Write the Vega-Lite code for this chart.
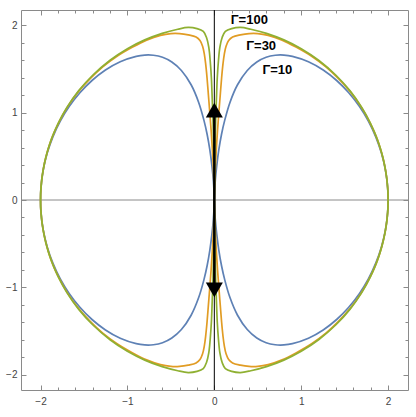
{
  "$schema": "https://vega.github.io/schema/vega-lite/v6.json",
  "width": 387,
  "height": 380,
  "autosize": "none",
  "padding": {"left": 21, "top": 10, "right": 8, "bottom": 27},
  "config": {
    "view": {"stroke": "#8a8a8a", "strokeWidth": 1},
    "axis": {"domain": false, "grid": false, "title": null, "tickColor": "#8a8a8a", "tickWidth": 1, "labelFont": "Liberation Sans", "labelFontSize": 10, "labelColor": "#444444", "labelFlush": false, "labelOverlap": false, "labelBound": false}
  },
  "datasets": {
    "blue": [
      {"x":0,"y":0},{"x":0.003,"y":0.086},{"x":0.011,"y":0.222},{"x":0.028,"y":0.394},{"x":0.052,"y":0.576},{"x":0.083,"y":0.753},{"x":0.12,"y":0.914},{"x":0.18,"y":1.117},{"x":0.267,"y":1.319},{"x":0.379,"y":1.483},{"x":0.489,"y":1.58},{"x":0.596,"y":1.634},{"x":0.701,"y":1.657},{"x":0.801,"y":1.659},{"x":0.899,"y":1.645},{"x":1.083,"y":1.583},{"x":1.253,"y":1.488},{"x":1.408,"y":1.368},{"x":1.547,"y":1.228},{"x":1.669,"y":1.072},{"x":1.773,"y":0.903},{"x":1.858,"y":0.723},{"x":1.924,"y":0.534},{"x":1.97,"y":0.34},{"x":1.995,"y":0.142},{"x":2,"y":0},
      {"x":1.995,"y":-0.142},{"x":1.97,"y":-0.34},{"x":1.924,"y":-0.534},{"x":1.858,"y":-0.723},{"x":1.773,"y":-0.903},{"x":1.669,"y":-1.072},{"x":1.547,"y":-1.228},{"x":1.408,"y":-1.368},{"x":1.253,"y":-1.488},{"x":1.083,"y":-1.583},{"x":0.899,"y":-1.645},{"x":0.801,"y":-1.659},{"x":0.701,"y":-1.657},{"x":0.596,"y":-1.634},{"x":0.489,"y":-1.58},{"x":0.379,"y":-1.483},{"x":0.267,"y":-1.319},{"x":0.18,"y":-1.117},{"x":0.12,"y":-0.914},{"x":0.083,"y":-0.753},{"x":0.052,"y":-0.576},{"x":0.028,"y":-0.394},{"x":0.011,"y":-0.222},{"x":0.003,"y":-0.086},{"x":0,"y":0},
      {"x":-0.003,"y":0.086},{"x":-0.011,"y":0.222},{"x":-0.028,"y":0.394},{"x":-0.052,"y":0.576},{"x":-0.083,"y":0.753},{"x":-0.12,"y":0.914},{"x":-0.18,"y":1.117},{"x":-0.267,"y":1.319},{"x":-0.379,"y":1.483},{"x":-0.489,"y":1.58},{"x":-0.596,"y":1.634},{"x":-0.701,"y":1.657},{"x":-0.801,"y":1.659},{"x":-0.899,"y":1.645},{"x":-1.083,"y":1.583},{"x":-1.253,"y":1.488},{"x":-1.408,"y":1.368},{"x":-1.547,"y":1.228},{"x":-1.669,"y":1.072},{"x":-1.773,"y":0.903},{"x":-1.858,"y":0.723},{"x":-1.924,"y":0.534},{"x":-1.97,"y":0.34},{"x":-1.995,"y":0.142},{"x":-2,"y":0},
      {"x":-1.995,"y":-0.142},{"x":-1.97,"y":-0.34},{"x":-1.924,"y":-0.534},{"x":-1.858,"y":-0.723},{"x":-1.773,"y":-0.903},{"x":-1.669,"y":-1.072},{"x":-1.547,"y":-1.228},{"x":-1.408,"y":-1.368},{"x":-1.253,"y":-1.488},{"x":-1.083,"y":-1.583},{"x":-0.899,"y":-1.645},{"x":-0.801,"y":-1.659},{"x":-0.701,"y":-1.657},{"x":-0.596,"y":-1.634},{"x":-0.489,"y":-1.58},{"x":-0.379,"y":-1.483},{"x":-0.267,"y":-1.319},{"x":-0.18,"y":-1.117},{"x":-0.12,"y":-0.914},{"x":-0.083,"y":-0.753},{"x":-0.052,"y":-0.576},{"x":-0.028,"y":-0.394},{"x":-0.011,"y":-0.222},{"x":-0.003,"y":-0.086},{"x":0,"y":0}
    ],
    "orange": [
      {"x":0,"y":0},{"x":0.005,"y":0.2},{"x":0.013,"y":0.4},{"x":0.024,"y":0.6},{"x":0.037,"y":0.8},{"x":0.052,"y":1.0},{"x":0.068,"y":1.2},{"x":0.084,"y":1.4},{"x":0.1,"y":1.56},{"x":0.115,"y":1.67},{"x":0.135,"y":1.76},{"x":0.165,"y":1.825},{"x":0.21,"y":1.865},{"x":0.3,"y":1.89},{"x":0.4,"y":1.905},{"x":0.5,"y":1.905},{"x":0.62,"y":1.885},{"x":0.78,"y":1.83},{"x":0.94,"y":1.75},{"x":1.124,"y":1.642},{"x":1.284,"y":1.524},{"x":1.429,"y":1.389},{"x":1.564,"y":1.241},{"x":1.681,"y":1.08},{"x":1.781,"y":0.907},{"x":1.864,"y":0.725},{"x":1.927,"y":0.535},{"x":1.971,"y":0.34},{"x":1.995,"y":0.142},{"x":2,"y":0},
      {"x":1.995,"y":-0.142},{"x":1.971,"y":-0.34},{"x":1.927,"y":-0.535},{"x":1.864,"y":-0.725},{"x":1.781,"y":-0.907},{"x":1.681,"y":-1.08},{"x":1.564,"y":-1.241},{"x":1.429,"y":-1.389},{"x":1.284,"y":-1.524},{"x":1.124,"y":-1.642},{"x":0.94,"y":-1.75},{"x":0.78,"y":-1.83},{"x":0.62,"y":-1.885},{"x":0.5,"y":-1.905},{"x":0.4,"y":-1.905},{"x":0.3,"y":-1.89},{"x":0.21,"y":-1.865},{"x":0.165,"y":-1.825},{"x":0.135,"y":-1.76},{"x":0.115,"y":-1.67},{"x":0.1,"y":-1.56},{"x":0.084,"y":-1.4},{"x":0.068,"y":-1.2},{"x":0.052,"y":-1.0},{"x":0.037,"y":-0.8},{"x":0.024,"y":-0.6},{"x":0.013,"y":-0.4},{"x":0.005,"y":-0.2},{"x":0,"y":0},
      {"x":-0.005,"y":0.2},{"x":-0.013,"y":0.4},{"x":-0.024,"y":0.6},{"x":-0.037,"y":0.8},{"x":-0.052,"y":1.0},{"x":-0.068,"y":1.2},{"x":-0.084,"y":1.4},{"x":-0.1,"y":1.56},{"x":-0.115,"y":1.67},{"x":-0.135,"y":1.76},{"x":-0.165,"y":1.825},{"x":-0.21,"y":1.865},{"x":-0.3,"y":1.89},{"x":-0.4,"y":1.905},{"x":-0.5,"y":1.905},{"x":-0.62,"y":1.885},{"x":-0.78,"y":1.83},{"x":-0.94,"y":1.75},{"x":-1.124,"y":1.642},{"x":-1.284,"y":1.524},{"x":-1.429,"y":1.389},{"x":-1.564,"y":1.241},{"x":-1.681,"y":1.08},{"x":-1.781,"y":0.907},{"x":-1.864,"y":0.725},{"x":-1.927,"y":0.535},{"x":-1.971,"y":0.34},{"x":-1.995,"y":0.142},{"x":-2,"y":0},
      {"x":-1.995,"y":-0.142},{"x":-1.971,"y":-0.34},{"x":-1.927,"y":-0.535},{"x":-1.864,"y":-0.725},{"x":-1.781,"y":-0.907},{"x":-1.681,"y":-1.08},{"x":-1.564,"y":-1.241},{"x":-1.429,"y":-1.389},{"x":-1.284,"y":-1.524},{"x":-1.124,"y":-1.642},{"x":-0.94,"y":-1.75},{"x":-0.78,"y":-1.83},{"x":-0.62,"y":-1.885},{"x":-0.5,"y":-1.905},{"x":-0.4,"y":-1.905},{"x":-0.3,"y":-1.89},{"x":-0.21,"y":-1.865},{"x":-0.165,"y":-1.825},{"x":-0.135,"y":-1.76},{"x":-0.115,"y":-1.67},{"x":-0.1,"y":-1.56},{"x":-0.084,"y":-1.4},{"x":-0.068,"y":-1.2},{"x":-0.052,"y":-1.0},{"x":-0.037,"y":-0.8},{"x":-0.024,"y":-0.6},{"x":-0.013,"y":-0.4},{"x":-0.005,"y":-0.2},{"x":0,"y":0}
    ],
    "green": [
      {"x":0,"y":0},{"x":0.003,"y":0.3},{"x":0.008,"y":0.6},{"x":0.015,"y":0.9},{"x":0.024,"y":1.15},{"x":0.034,"y":1.4},{"x":0.048,"y":1.6},{"x":0.064,"y":1.75},{"x":0.09,"y":1.86},{"x":0.127,"y":1.93},{"x":0.2,"y":1.962},{"x":0.3,"y":1.975},{"x":0.42,"y":1.955},{"x":0.6,"y":1.908},{"x":0.8,"y":1.833},{"x":1.0,"y":1.732},{"x":1.2,"y":1.6},{"x":1.4,"y":1.428},{"x":1.56,"y":1.252},{"x":1.7,"y":1.054},{"x":1.8,"y":0.872},{"x":1.88,"y":0.683},{"x":1.94,"y":0.486},{"x":1.98,"y":0.282},{"x":1.997,"y":0.11},{"x":2,"y":0},
      {"x":1.997,"y":-0.11},{"x":1.98,"y":-0.282},{"x":1.94,"y":-0.486},{"x":1.88,"y":-0.683},{"x":1.8,"y":-0.872},{"x":1.7,"y":-1.054},{"x":1.56,"y":-1.252},{"x":1.4,"y":-1.428},{"x":1.2,"y":-1.6},{"x":1.0,"y":-1.732},{"x":0.8,"y":-1.833},{"x":0.6,"y":-1.908},{"x":0.42,"y":-1.955},{"x":0.3,"y":-1.975},{"x":0.2,"y":-1.962},{"x":0.127,"y":-1.93},{"x":0.09,"y":-1.86},{"x":0.064,"y":-1.75},{"x":0.048,"y":-1.6},{"x":0.034,"y":-1.4},{"x":0.024,"y":-1.15},{"x":0.015,"y":-0.9},{"x":0.008,"y":-0.6},{"x":0.003,"y":-0.3},{"x":0,"y":0},
      {"x":-0.003,"y":0.3},{"x":-0.008,"y":0.6},{"x":-0.015,"y":0.9},{"x":-0.024,"y":1.15},{"x":-0.034,"y":1.4},{"x":-0.048,"y":1.6},{"x":-0.064,"y":1.75},{"x":-0.09,"y":1.86},{"x":-0.127,"y":1.93},{"x":-0.2,"y":1.962},{"x":-0.3,"y":1.975},{"x":-0.42,"y":1.955},{"x":-0.6,"y":1.908},{"x":-0.8,"y":1.833},{"x":-1.0,"y":1.732},{"x":-1.2,"y":1.6},{"x":-1.4,"y":1.428},{"x":-1.56,"y":1.252},{"x":-1.7,"y":1.054},{"x":-1.8,"y":0.872},{"x":-1.88,"y":0.683},{"x":-1.94,"y":0.486},{"x":-1.98,"y":0.282},{"x":-1.997,"y":0.11},{"x":-2,"y":0},
      {"x":-1.997,"y":-0.11},{"x":-1.98,"y":-0.282},{"x":-1.94,"y":-0.486},{"x":-1.88,"y":-0.683},{"x":-1.8,"y":-0.872},{"x":-1.7,"y":-1.054},{"x":-1.56,"y":-1.252},{"x":-1.4,"y":-1.428},{"x":-1.2,"y":-1.6},{"x":-1.0,"y":-1.732},{"x":-0.8,"y":-1.833},{"x":-0.6,"y":-1.908},{"x":-0.42,"y":-1.955},{"x":-0.3,"y":-1.975},{"x":-0.2,"y":-1.962},{"x":-0.127,"y":-1.93},{"x":-0.09,"y":-1.86},{"x":-0.064,"y":-1.75},{"x":-0.048,"y":-1.6},{"x":-0.034,"y":-1.4},{"x":-0.024,"y":-1.15},{"x":-0.015,"y":-0.9},{"x":-0.008,"y":-0.6},{"x":-0.003,"y":-0.3},{"x":0,"y":0}
    ]
  },
  "resolve": {"axis": {"x": "independent", "y": "independent"}},
  "layer": [
    {
      "data": {"values": [{"y": 0}]},
      "mark": {"type": "rule", "color": "#8a8a8a", "strokeWidth": 1},
      "encoding": {"y": {"field": "y", "type": "quantitative", "scale": {"domain": [-2.175, 2.175], "nice": false, "zero": false}, "axis": null}}
    },
    {
      "data": {"values": [{"x": 0}]},
      "mark": {"type": "rule", "color": "#000000", "strokeWidth": 1},
      "encoding": {"x": {"field": "x", "type": "quantitative", "scale": {"domain": [-2.225, 2.229], "nice": false, "zero": false}, "axis": null}}
    },
    {
      "data": {"name": "blue"},
      "mark": {"type": "line", "color": "#5E81B5", "strokeWidth": 1.7, "interpolate": "catmull-rom"},
      "encoding": {
        "x": {"field": "x", "type": "quantitative", "scale": {"domain": [-2.225, 2.229], "nice": false, "zero": false},
              "axis": {"orient": "bottom", "values": [-2, -1, 0, 1, 2], "tickSize": -5, "labelPadding": 11}},
        "y": {"field": "y", "type": "quantitative", "scale": {"domain": [-2.175, 2.175], "nice": false, "zero": false},
              "axis": {"orient": "left", "values": [-2, -1, 0, 1, 2], "tickSize": -5, "labelPadding": 9}},
        "order": {"value": null}
      }
    },
    {
      "data": {"name": "orange"},
      "mark": {"type": "line", "color": "#E19C24", "strokeWidth": 1.7, "interpolate": "catmull-rom"},
      "encoding": {
        "x": {"field": "x", "type": "quantitative", "scale": {"domain": [-2.225, 2.229], "nice": false, "zero": false},
              "axis": {"orient": "bottom", "values": [-1.8,-1.6,-1.4,-1.2,-0.8,-0.6,-0.4,-0.2,0.2,0.4,0.6,0.8,1.2,1.4,1.6,1.8], "tickSize": -3, "labels": false}},
        "y": {"field": "y", "type": "quantitative", "scale": {"domain": [-2.175, 2.175], "nice": false, "zero": false},
              "axis": {"orient": "left", "values": [-1.8,-1.6,-1.4,-1.2,-0.8,-0.6,-0.4,-0.2,0.2,0.4,0.6,0.8,1.2,1.4,1.6,1.8], "tickSize": -3, "labels": false}},
        "order": {"value": null}
      }
    },
    {
      "data": {"name": "green"},
      "mark": {"type": "line", "color": "#8FB032", "strokeWidth": 1.7, "interpolate": "catmull-rom"},
      "encoding": {
        "x": {"field": "x", "type": "quantitative", "scale": {"domain": [-2.225, 2.229], "nice": false, "zero": false},
              "axis": {"orient": "top", "values": [-2, -1, 0, 1, 2], "tickSize": -5, "labels": false}},
        "y": {"field": "y", "type": "quantitative", "scale": {"domain": [-2.175, 2.175], "nice": false, "zero": false},
              "axis": {"orient": "right", "values": [-2, -1, 0, 1, 2], "tickSize": -5, "labels": false}},
        "order": {"value": null}
      }
    },
    {
      "data": {"values": [{"x": 0, "y": 0, "y2": 1.0}, {"x": 0, "y": 0, "y2": -1.0}]},
      "mark": {"type": "rule", "color": "#000000", "strokeWidth": 2.5},
      "encoding": {
        "x": {"field": "x", "type": "quantitative", "scale": {"domain": [-2.225, 2.229], "nice": false, "zero": false}, "axis": null},
        "y": {"field": "y", "type": "quantitative", "scale": {"domain": [-2.175, 2.175], "nice": false, "zero": false}, "axis": null},
        "y2": {"field": "y2"}
      }
    },
    {
      "data": {"values": [{"x": 0, "y": 1.03, "dir": "up"}, {"x": 0, "y": -1.03, "dir": "down"}]},
      "mark": {"type": "point", "filled": true, "color": "#000000", "opacity": 1, "size": 290, "strokeWidth": 0},
      "encoding": {
        "x": {"field": "x", "type": "quantitative", "scale": {"domain": [-2.225, 2.229], "nice": false, "zero": false}, "axis": null},
        "y": {"field": "y", "type": "quantitative", "scale": {"domain": [-2.175, 2.175], "nice": false, "zero": false}, "axis": null},
        "shape": {"field": "dir", "type": "nominal", "scale": {"domain": ["up", "down"], "range": ["triangle-up", "triangle-down"]}, "legend": null}
      }
    },
    {
      "data": {"values": [{"label": "Γ=100", "x": 0.403, "y": 2.065}, {"label": "Γ=30", "x": 0.539, "y": 1.766}, {"label": "Γ=10", "x": 0.725, "y": 1.489}]},
      "mark": {"type": "text", "font": "Liberation Sans", "fontSize": 13, "fontWeight": "bold", "color": "#000000", "align": "center", "baseline": "middle"},
      "encoding": {
        "x": {"field": "x", "type": "quantitative", "scale": {"domain": [-2.225, 2.229], "nice": false, "zero": false},
              "axis": {"orient": "top", "values": [-1.8,-1.6,-1.4,-1.2,-0.8,-0.6,-0.4,-0.2,0.2,0.4,0.6,0.8,1.2,1.4,1.6,1.8], "tickSize": -3, "labels": false}},
        "y": {"field": "y", "type": "quantitative", "scale": {"domain": [-2.175, 2.175], "nice": false, "zero": false},
              "axis": {"orient": "right", "values": [-1.8,-1.6,-1.4,-1.2,-0.8,-0.6,-0.4,-0.2,0.2,0.4,0.6,0.8,1.2,1.4,1.6,1.8], "tickSize": -3, "labels": false}},
        "text": {"field": "label"}
      }
    }
  ]
}
